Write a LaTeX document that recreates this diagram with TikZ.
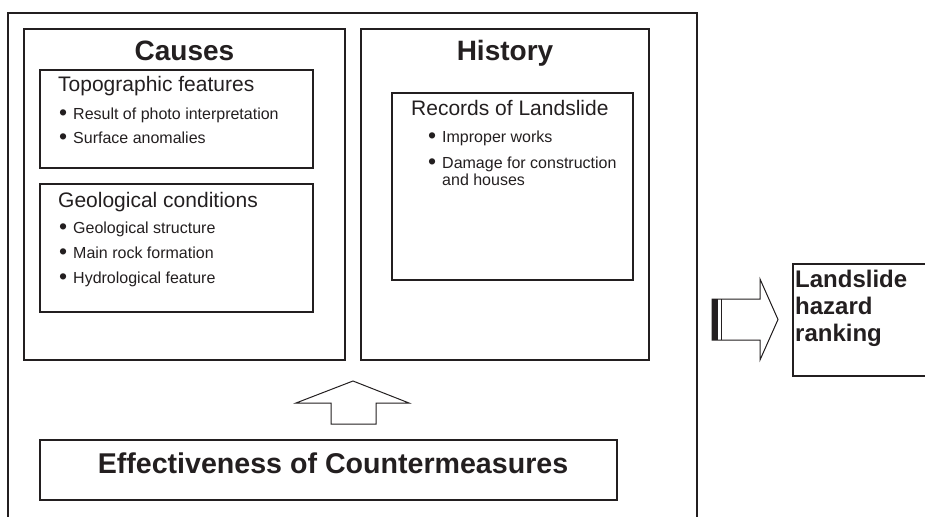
\documentclass[tikz,border=0pt]{standalone}
\usepackage{fontspec}
\setmainfont{Liberation Sans}
\definecolor{ink}{HTML}{231F20}
\newcommand{\blt}[1]{\makebox[14pt][l]{\raisebox{-1.6pt}{\fontsize{23}{23}\selectfont\textbullet}}#1}

\begin{document}
\begin{tikzpicture}[
    x=1pt, y=-1pt,
    frame/.style={draw=ink, line width=1.2pt, inner sep=0pt},
    title/.style={text=ink, font=\fontsize{28}{30}\selectfont\bfseries, anchor=base, inner sep=0pt},
    head/.style={text=ink, font=\fontsize{21}{24}\selectfont, anchor=base west, inner sep=0pt},
    item/.style={text=ink, font=\fontsize{16}{17}\selectfont, anchor=base west, inner sep=0pt, align=left},
    blockarrow/.style={draw=ink, line width=1pt, fill=white, line join=miter}
]
\useasboundingbox (0,0) rectangle (925,516);
\clip (0,0) rectangle (925,516);

% outer frame, open at the bottom
\draw[ink, line width=1.5pt] (8,520) -- (8,13) -- (697,13) -- (697,520);

% main boxes
\node[frame, minimum width=321pt, minimum height=331pt] (causes) at (184.5,194.5) {};
\node[frame, minimum width=288pt, minimum height=331pt] (history) at (505,194.5) {};
\node[frame, minimum width=273pt, minimum height=98pt]  (topo) at (176.5,119) {};
\node[frame, minimum width=273pt, minimum height=128pt] (geo) at (176.5,248) {};
\node[frame, minimum width=241pt, minimum height=187pt] (records) at (512.5,186.5) {};
\node[frame, minimum width=577pt, minimum height=60pt]  (effect) at (328.5,470) {};
\node[frame, minimum width=160pt, minimum height=112pt] (rank) at (873,320) {};

% titles
\node[title] (tcauses) at (184.5,61) {Causes};
\node[title] (thistory) at (505,61) {History};
\node[title, font=\fontsize{28.6}{30}\selectfont\bfseries] (teffect) at (333,473) {Effectiveness of Countermeasures};

% topographic features
\node[head] (htopo) at (58,92) {Topographic features};
\node[item] (t1) at (59,119) {\blt{Result of photo interpretation}};
\node[item] (t2) at (59,143) {\blt{Surface anomalies}};

% geological conditions
\node[head] (hgeo) at (58,207) {Geological conditions};
\node[item] (g1) at (59,233) {\blt{Geological structure}};
\node[item] (g2) at (59,258) {\blt{Main rock formation}};
\node[item] (g3) at (59,283) {\blt{Hydrological feature}};

% records of landslide (multi-line nodes sit on their last line)
\node[head] (hrec) at (411,116) {Records of Landslide};
\node[item] (r1) at (428,142) {\blt{Improper works}};
\node[item] (r2) at (428,185) {\blt{Damage for construction}\\\hspace*{14pt}and houses};

% ranking
\node[text=ink, font=\fontsize{24}{27}\selectfont\bfseries, anchor=base west, inner sep=0pt, align=left]
    (trank) at (795,341) {Landslide\\hazard\\ranking};

% block arrows
\draw[blockarrow] (331,424) -- (331,403) -- (296,403) -- (353,381) -- (409,403)
    -- (376,403) -- (376,424) -- cycle;
\draw[blockarrow] (712,299) -- (760,299) -- (760,279) -- (778,319.5) -- (760,360)
    -- (760,340) -- (712,340) -- cycle;
\fill[ink] (712,299) rectangle (718,340);
\draw[ink, line width=1.2pt] (721.5,299) -- (721.5,340);
\end{tikzpicture}
\end{document}
